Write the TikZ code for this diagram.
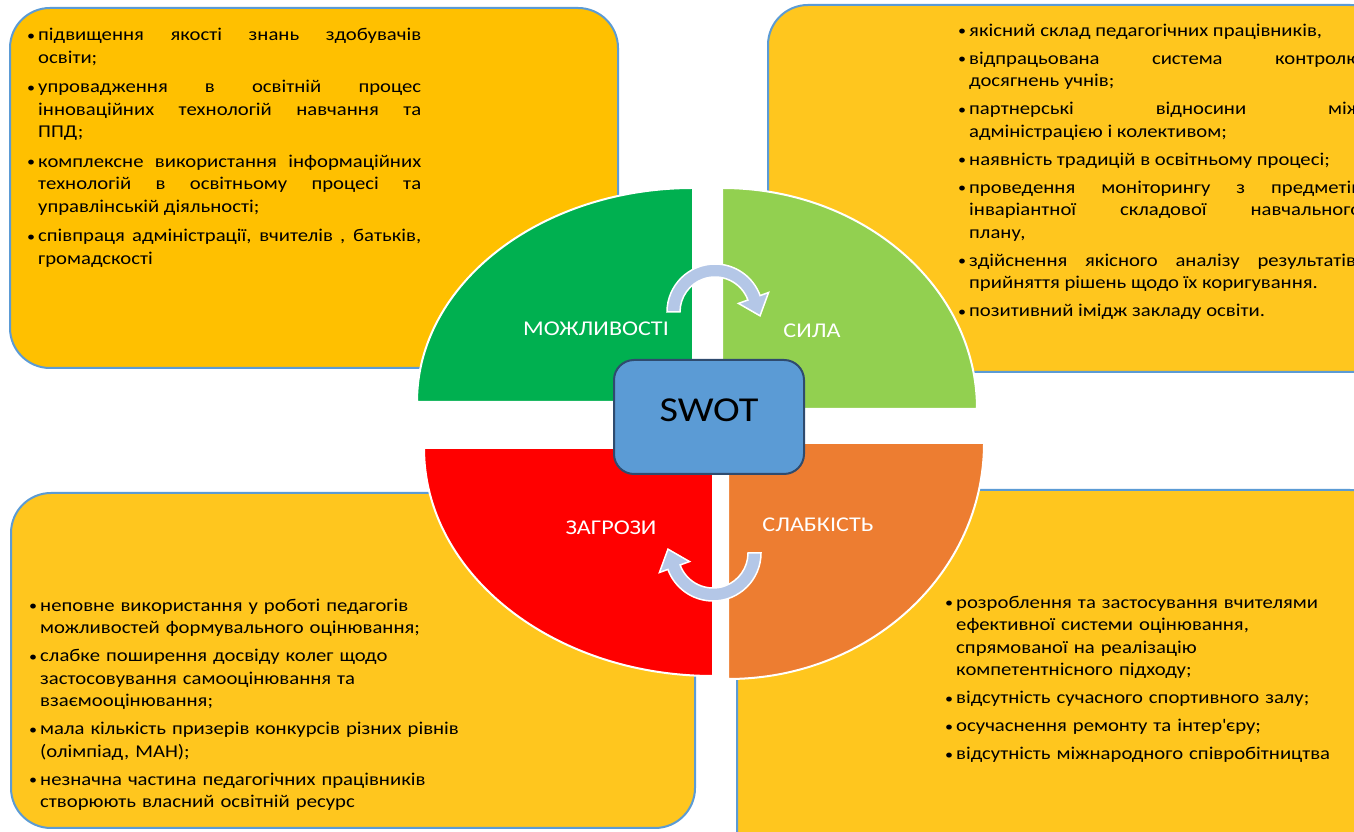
\documentclass[tikz,border=0pt]{standalone}
\usepackage{fontspec}
\setmainfont{Carlito}[FakeStretch=1.15]
\usepackage{tikz}
\usetikzlibrary{positioning,calc}
\definecolor{boxgold}{HTML}{FFC000}
\definecolor{boxyellow}{HTML}{FFC61E}
\definecolor{boxline}{HTML}{5B9BD5}
\definecolor{qgreen}{HTML}{00B050}
\definecolor{qlime}{HTML}{92D050}
\definecolor{qred}{HTML}{FF0000}
\definecolor{qorange}{HTML}{ED7D31}
\definecolor{swotblue}{HTML}{5B9BD5}
\definecolor{swotline}{HTML}{2F4B6E}
\definecolor{cyclearrow}{HTML}{B4C7E7}
\newcommand{\bitem}{\par\noindent\hangindent=11pt\hangafter=1\makebox[11pt][l]{\raisebox{0.5pt}{\fontsize{14}{14}\selectfont•}}}

\begin{document}
\begin{tikzpicture}[x=1pt,y=1pt,
  panel/.style={draw=boxline,line width=2pt,rounded corners=40pt,inner sep=0pt},
  quarter/.style={draw=white,line width=2pt},
  pietext/.style={text=white,font=\fontsize{21}{25}\selectfont},
  bullets/.style={anchor=north west,inner sep=0pt,font=\fontsize{18}{22.5}\selectfont,
    execute at begin node=\setlength{\parskip}{5.5pt}},
  cyc/.style={fill=cyclearrow,draw=white,line width=1.5pt}]
\useasboundingbox (0,0) rectangle (1354,832);
\clip (0,0) rectangle (1354,832);

\node[panel,fill=boxgold,minimum width=608pt,minimum height=360pt] (oppbox) at (314,644) {};
\node[panel,fill=boxyellow,minimum width=622pt,minimum height=367pt] (strbox) at (1079,643.5) {};
\node[panel,fill=boxyellow,minimum width=684pt,minimum height=335pt] (thrbox) at (353,171.5) {};
\node[panel,fill=boxyellow,minimum width=653pt,minimum height=380pt] (weabox) at (1063.5,152) {};

\node[bullets,text width=394pt,align=justify] (opptext) [below right=4pt and 18pt of oppbox.north west] {%
\setlength{\parskip}{7pt}%
\bitem підвищення якості знань здобувачів\linebreak освіти;
\bitem упровадження в освітній процес\linebreak інноваційних технологій навчання та\linebreak ППД;
\bitem комплексне використання інформаційних\linebreak технологій в освітньому процесі та\linebreak управлінській діяльності;
\bitem співпраця адміністрації, вчителів , батьків,\linebreak громадскості\par};
\node[bullets,text width=403pt,align=justify] (strtext) [below right=4pt and 191pt of strbox.north west] {%
\bitem якісний склад педагогічних працівників,
\bitem відпрацьована система контролю\linebreak досягнень учнів;
\bitem партнерські відносини між\linebreak адміністрацією і колективом;
\bitem наявність традицій в освітньому процесі;
\bitem проведення моніторингу з предметів\linebreak інваріантної складової навчального\linebreak плану,
\bitem здійснення якісного аналізу результатів,\linebreak прийняття рішень щодо їх коригування.
\bitem позитивний імідж закладу освіти.\par};
\node[bullets,text width=460pt,align=left] (thrtext) [below right=91pt and 19pt of thrbox.north west] {%
\bitem неповне використання у роботі педагогів\newline можливостей формувального оцінювання;
\bitem слабке поширення досвіду колег щодо\newline застосовування самооцінювання та\newline взаємооцінювання;
\bitem мала кількість призерів конкурсів різних рівнів\newline (олімпіад, МАН);
\bitem незначна частина педагогічних працівників\newline створюють власний освітній ресурс\par};
\node[bullets,text width=420pt,align=left] (weatext) [below right=91pt and 209pt of weabox.north west] {%
\bitem розроблення та застосування вчителями\newline ефективної системи оцінювання,\newline спрямованої на реалізацію\newline компетентнісного підходу;
\bitem відсутність сучасного спортивного залу;
\bitem осучаснення ремонту та інтер\textquotesingle єру;
\bitem відсутність міжнародного співробітництва\par};

% the four quarters
\path[quarter,fill=qgreen] (693,430) -- (417,430) arc[start angle=180,end angle=90,x radius=276,y radius=214] -- cycle;
\path[quarter,fill=qlime] (722,423) -- (977,423) arc[start angle=0,end angle=90,x radius=255,y radius=221] -- cycle;
\path[quarter,fill=qred] (713,384) -- (424,384) arc[start angle=180,end angle=270,x radius=289,y radius=228] -- cycle;
\path[quarter,fill=qorange] (728,389) -- (984,389) arc[start angle=0,end angle=-90,x radius=256,y radius=236] -- cycle;

\begin{scope}[shift={(715,520)}]
\path[cyc] (180:48) arc[start angle=180,end angle=20,radius=48] -- (20:57) -- ($(20:41)+(-70:19)$) -- (20:25) -- (20:35) arc[start angle=20,end angle=180,radius=35] -- cycle;
\end{scope}
\begin{scope}[shift={(713,279)}]
\path[cyc] (0:48) arc[start angle=0,end angle=-160,radius=48] -- (-160:57) -- ($(-160:41)+(110:19)$) -- (-160:25) -- (-160:35) arc[start angle=-160,end angle=0,radius=35] -- cycle;
\end{scope}

\node[draw=swotline,line width=2pt,fill=swotblue,rounded corners=20pt,minimum width=190pt,minimum height=114pt,font=\fontsize{35}{40}\selectfont] (swot) at (709,415) {\raisebox{14pt}{SWOT}};

\node[pietext] (opp) at (596,503) {МОЖЛИВОСТІ};
\node[pietext] (str) at (812,501) {СИЛА};
\node[pietext] (thr) at (611,304) {ЗАГРОЗИ};
\node[pietext] (wea) at (818,307) {СЛАБКІСТЬ};
\end{tikzpicture}
\end{document}
